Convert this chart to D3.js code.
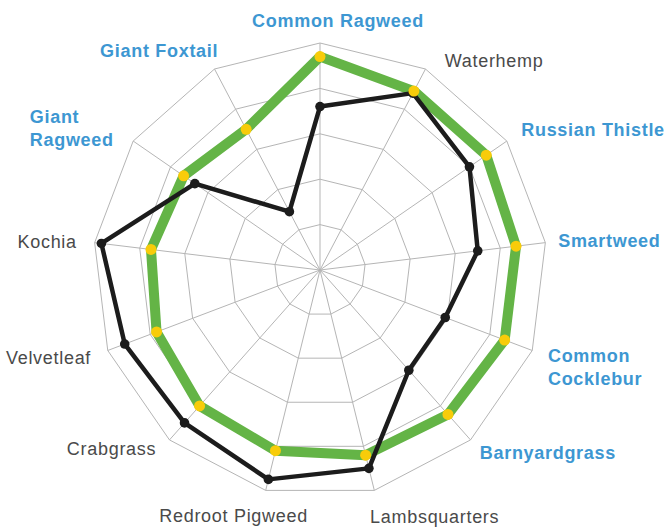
<!DOCTYPE html>
<html>
<head>
<meta charset="utf-8">
<script src="https://cdn.jsdelivr.net/npm/d3@7"></script>
<style>
  body { margin: 0; background: #fff; }
  text { font-family: "Liberation Sans", Arial, Helvetica, sans-serif; font-size: 18px; letter-spacing: 0.7px; }
</style>
</head>
<body>
<div class="board"></div>
<script>
/*
=================================
DATA
=================================
*/
var weeds = ['Common Ragweed', 'Waterhemp', 'Russian Thistle', 'Smartweed',
             'Common Cocklebur', 'Barnyardgrass', 'Lambsquarters', 'Redroot Pigweed',
             'Crabgrass', 'Velvetleaf', 'Kochia', 'Giant Ragweed', 'Giant Foxtail'];

// green series (yellow dots)
var greenValues = [94, 89, 89, 87, 87, 85, 84, 82, 80, 77, 75, 73, 70];

// black series
var blackValues = [72, 88, 80, 70, 59, 59, 90, 95, 90, 92, 97, 67, 29];

var levels = [20, 40, 60, 80, 100];

var blueWeeds = ['Common Ragweed', 'Russian Thistle', 'Smartweed', 'Common Cocklebur',
                 'Barnyardgrass', 'Giant Ragweed', 'Giant Foxtail'];

var wrapped = ['Common Cocklebur', 'Giant Ragweed'];


/*
=================================
LAYOUT
=================================
*/
var width = 668, height = 529;
var cx = 320, cy = 270, R = 227;
var labelPad = 20;
var lineH = 23.5;

// small nudges for label placement [dx, dy]
var labelNudge = [[18, -2], [10, 10], [-2, 0], [-7, 1], [-3, 10], [-4, -2], [-9, 7],
                  [47, 6], [0, -6], [2, 0], [2, 2], [-3, -1], [13, 0]];

var svg = d3.select('.board').append('svg')
            .attr('width', width)
            .attr('height', height);

var g = svg.append('g').attr('transform', 'translate(' + cx + ',' + cy + ')');

var r = d3.scaleLinear().domain([0, 100]).range([0, R]);

var angle = d3.scaleLinear().domain([0, weeds.length]).range([0, 2 * Math.PI]);

var radial = function(values) {
  return d3.lineRadial()
           .angle((d, i) => angle(i))
           .radius(d => r(d))
           .curve(d3.curveLinearClosed)(values);
};

var px = (v, i) => r(v) * Math.sin(angle(i));
var py = (v, i) => -r(v) * Math.cos(angle(i));


/*
=================================
GRID
=================================
*/
g.selectAll('.ring')
  .data(levels)
  .enter().append('path')
  .attr('class', 'ring')
  .attr('d', lv => radial(weeds.map(() => lv)))
  .attr('fill', 'none')
  .attr('stroke', '#b5b5b5')
  .attr('stroke-width', 1);

g.selectAll('.spoke')
  .data(weeds)
  .enter().append('line')
  .attr('class', 'spoke')
  .attr('x1', 0).attr('y1', 0)
  .attr('x2', (d, i) => px(100, i))
  .attr('y2', (d, i) => py(100, i))
  .attr('stroke', '#b5b5b5')
  .attr('stroke-width', 1);


/*
=================================
SERIES
=================================
*/
g.append('path')
  .attr('d', radial(greenValues))
  .attr('fill', 'none')
  .attr('stroke', '#64b446')
  .attr('stroke-width', 10)
  .attr('stroke-linejoin', 'round');

g.append('path')
  .attr('d', radial(blackValues))
  .attr('fill', 'none')
  .attr('stroke', '#1c1c1c')
  .attr('stroke-width', 4.5)
  .attr('stroke-linejoin', 'round');

g.selectAll('.bdot')
  .data(blackValues)
  .enter().append('circle')
  .attr('class', 'bdot')
  .attr('cx', (d, i) => px(d, i))
  .attr('cy', (d, i) => py(d, i))
  .attr('r', 4.8)
  .attr('fill', '#1c1c1c');

g.selectAll('.gdot')
  .data(greenValues)
  .enter().append('circle')
  .attr('class', 'gdot')
  .attr('cx', (d, i) => px(d, i))
  .attr('cy', (d, i) => py(d, i))
  .attr('r', 5.5)
  .attr('fill', '#f8cc0a');


/*
=================================
LABELS
=================================
*/
weeds.forEach(function(name, i) {
  var a = angle(i);
  var s = Math.sin(a);
  var anchor = s > 0.2 ? 'start' : (s < -0.2 ? 'end' : 'middle');
  var lines = wrapped.indexOf(name) >= 0 ? name.split(' ') : [name];
  var blue = blueWeeds.indexOf(name) >= 0;

  var x = cx + (R + labelPad) * s + labelNudge[i][0];
  var y = cy - (R + labelPad) * Math.cos(a) + 6 - (lines.length - 1) * lineH / 2 + labelNudge[i][1];

  var t = svg.append('text')
             .attr('fill', blue ? '#3d97d2' : '#4a4a4a')
             .attr('font-weight', blue ? 'bold' : 'normal');

  var spans = lines.map(function(line, k) {
    return t.append('tspan').attr('y', y + k * lineH).text(line);
  });

  if (lines.length > 1 && anchor === 'end') {
    // right-aligned block, left-aligned lines
    var w = d3.max(spans, sp => sp.node().getComputedTextLength());
    spans.forEach(sp => sp.attr('x', x - w));
    t.attr('text-anchor', 'start');
  } else {
    spans.forEach(sp => sp.attr('x', x));
    t.attr('text-anchor', anchor);
  }
});
</script>
</body>
</html>
